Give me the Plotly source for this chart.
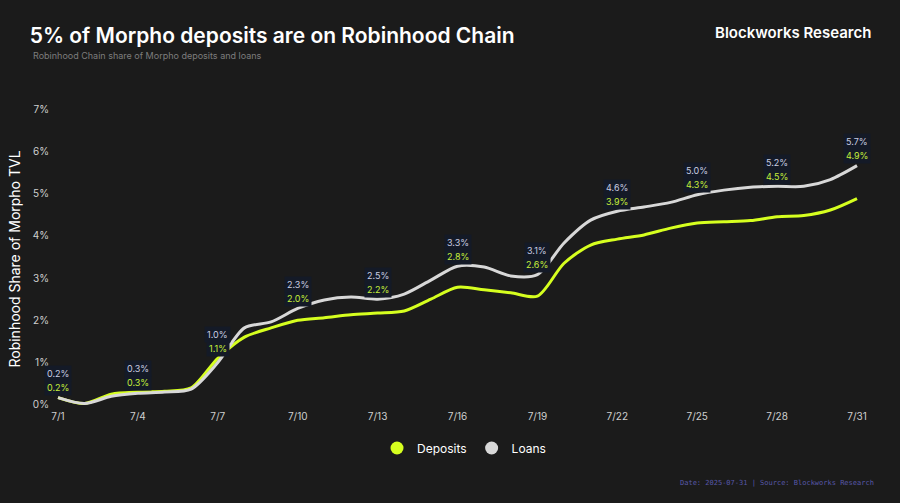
import plotly.graph_objects as go
import pandas as pd

dates = pd.date_range("2025-07-01", "2025-07-31", freq="D")
deposits = [0.17, 0.03, 0.25, 0.30, 0.32, 0.40, 1.10, 1.60, 1.82, 2.00, 2.06, 2.13, 2.17, 2.22, 2.50,
            2.78, 2.72, 2.65, 2.57, 3.35, 3.78, 3.92, 4.02, 4.18, 4.30, 4.33, 4.36, 4.45, 4.48, 4.61, 4.88]
loans = [0.17, 0.03, 0.20, 0.27, 0.30, 0.37, 1.00, 1.82, 1.96, 2.28, 2.48, 2.55, 2.50, 2.62, 2.95,
         3.28, 3.26, 3.05, 3.08, 3.83, 4.37, 4.58, 4.68, 4.79, 4.97, 5.08, 5.15, 5.17, 5.17, 5.33, 5.66]
label_idx = list(range(0, 31, 3))
tick_labels = [f"7/{d}" for d in range(1, 32, 3)]

DEP_COLOR = "#d6ff1f"
LOAN_COLOR = "#d8d8d8"
BG = "#1b1b1b"

fig = go.Figure()
fig.add_trace(go.Scatter(x=dates, y=deposits, mode="lines", name="Deposits",
                         line=dict(color=DEP_COLOR, width=3, shape="spline", smoothing=0.8),
                         showlegend=False))
fig.add_trace(go.Scatter(x=dates, y=loans, mode="lines", name="Loans",
                         line=dict(color=LOAN_COLOR, width=3, shape="spline", smoothing=0.8),
                         showlegend=False))
# legend entries
fig.add_trace(go.Scatter(x=[None], y=[None], mode="markers", name="Deposits",
                         marker=dict(color=DEP_COLOR, size=13, symbol="circle")))
fig.add_trace(go.Scatter(x=[None], y=[None], mode="markers", name="Loans",
                         marker=dict(color=LOAN_COLOR, size=13, symbol="circle")))

for i in label_idx:
    top = max(deposits[i], loans[i])
    fig.add_annotation(x=dates[i], y=top, text=f"{deposits[i]:.1f}%", showarrow=False,
                       yshift=10, font=dict(family="Inter", size=9, color="#c6ee3a"),
                       bgcolor="#141a27", borderpad=2)
    fig.add_annotation(x=dates[i], y=top, text=f"{loans[i]:.1f}%", showarrow=False,
                       yshift=24, font=dict(family="Inter", size=9, color="#c9cde0"),
                       bgcolor="#141a27", borderpad=2)

fig.update_layout(
    width=900, height=503,
    paper_bgcolor=BG, plot_bgcolor=BG,
    margin=dict(l=50, r=35, t=109, b=94),
    font=dict(family="Inter", color="#d0d0d0"),
    title=dict(text="5% of Morpho deposits are on Robinhood Chain", x=0.033, xanchor="left",
               y=0.93, yanchor="middle", font=dict(family="Inter", size=21, color="#ffffff", weight=600)),
    legend=dict(orientation="h", x=0.508, xanchor="center", y=-0.13, yanchor="middle",
                font=dict(family="Inter", size=12, color="#ffffff"), bgcolor="rgba(0,0,0,0)",
                itemwidth=30),
    showlegend=True,
)
fig.add_annotation(xref="paper", yref="paper", x=-0.023, y=1.18, xanchor="left", yanchor="middle",
                   text="Robinhood Chain share of Morpho deposits and loans", showarrow=False,
                   font=dict(family="Inter", size=9, color="#7d7d7d"))
fig.add_annotation(xref="paper", yref="paper", x=1.01, y=1.255, xanchor="right", yanchor="middle",
                   text="Blockworks Research", showarrow=False,
                   font=dict(family="Inter", size=15, color="#ffffff", weight=600))
fig.add_annotation(xref="paper", yref="paper", x=1.013, y=-0.245, xanchor="right", yanchor="middle",
                   text="Date: 2025-07-31 | Source: Blockworks Research", showarrow=False,
                   font=dict(family="DejaVu Sans Mono", size=7, color="#5757a8"))

fig.update_xaxes(
    range=[pd.Timestamp("2025-06-30 16:48"), pd.Timestamp("2025-07-31 07:12")],
    tickvals=[dates[i] for i in label_idx], ticktext=tick_labels,
    showgrid=False, zeroline=False, showline=False,
    tickfont=dict(family="Inter", size=10, color="#cfcfcf"),
)
fig.update_yaxes(
    range=[-0.1, 7.0], tickvals=list(range(0, 8)), ticktext=[f"{v}%" for v in range(0, 8)],
    showgrid=False, zeroline=False, showline=False,
    tickfont=dict(family="Inter", size=10, color="#cfcfcf"),
    title=dict(text="Robinhood Share of Morpho TVL", font=dict(family="Inter", size=14, color="#ffffff"),
               standoff=8),
)

fig.write_html("out.html", config={"displayModeBar": False},
               post_script="document.body.style.margin='0';document.body.style.background='#1b1b1b';")
